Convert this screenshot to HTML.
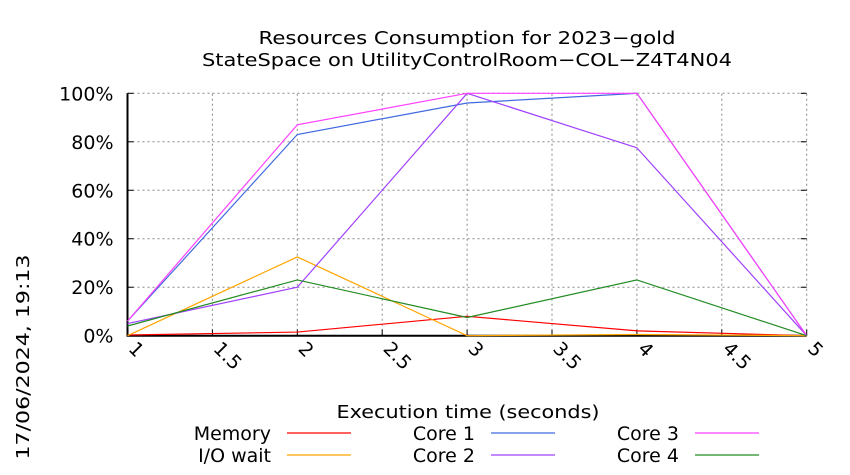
<!DOCTYPE html>
<html><head><meta charset="utf-8"><style>
body{margin:0;background:#fff}
svg{display:block;font-family:"DejaVu Sans","Liberation Sans",sans-serif}
</style></head><body>
<svg width="850" height="475" viewBox="0 0 850 475">
<text x="467" y="44" font-size="18" text-anchor="middle" textLength="417" lengthAdjust="spacingAndGlyphs">Resources Consumption for 2023−gold</text>
<text x="467" y="66" font-size="18" text-anchor="middle" textLength="530" lengthAdjust="spacingAndGlyphs">StateSpace on UtilityControlRoom−COL−Z4T4N04</text>
<g id="grid"></g>
<g id="axes"></g>
<g id="series"></g>
<text x="468" y="418" font-size="18" text-anchor="middle" textLength="263" lengthAdjust="spacingAndGlyphs">Execution time (seconds)</text>
<text transform="translate(29,357) rotate(-90)" font-size="18" text-anchor="middle" textLength="205" lengthAdjust="spacingAndGlyphs">17/06/2024, 19:13</text>
<g id="legend"></g>
</svg>
<script>
const xValues=[1,2,3,4,5];
const xTicks=[1,1.5,2,2.5,3,3.5,4,4.5,5];
const yTicks=[0,20,40,60,80,100];
const seriesNames=["Memory","I/O wait","Core 1","Core 2","Core 3","Core 4"];
const memory=[0.3,1.5,8,2,0];
const ioWait=[0,32.5,0,0.5,0];
const core1=[6,83,96,100,0];
const core2=[5,20,100,77.5,0];
const core3=[6,87,100,100,0];
const core4=[4,23,7.5,23,0];
const seriesData=[memory,ioWait,core1,core2,core3,core4];
const colors=["#ff0000","#ffa500","#4169e1","#a040ff","#ff40ff","#228b22"];
const NS="http://www.w3.org/2000/svg";
const X0=127.5,X1=806.7,Y0=335.7,Y1=93.3;
const sx=v=>X0+(v-1)/(5-1)*(X1-X0);
const sy=v=>Y0-v/100*(Y0-Y1);
function mk(tag,attrs,parent){const e=document.createElementNS(NS,tag);for(const k in attrs)e.setAttribute(k,attrs[k]);parent.appendChild(e);return e;}
const grid=document.getElementById('grid'),axes=document.getElementById('axes'),ser=document.getElementById('series'),leg=document.getElementById('legend');
yTicks.forEach(t=>{
 const y=sy(t);
 if(t>0){const l=mk('line',{x1:X0,x2:X1,y1:y,y2:y,stroke:'#888','stroke-dasharray':'2,3','stroke-width':1},grid);
 
 }
 const tk=mk('line',{x1:X0,x2:X0+6,y1:y,y2:y,stroke:'#000'},axes);
 
 
 const tk2=mk('line',{x1:X1-6,x2:X1,y1:y,y2:y,stroke:'#000'},axes);
 
 
 const tx=mk('text',{x:X0-14,y:y+7,'font-size':19,'text-anchor':'end'},axes);
 tx.textContent=t+'%';
 
 
});
xTicks.forEach(t=>{
 const x=sx(t);
 if(t>1){const l=mk('line',{x1:x,x2:x,y1:Y0,y2:Y1,stroke:'#888','stroke-dasharray':'2,3','stroke-width':1},grid);
 
 }
 const tk=mk('line',{x1:x,x2:x,y1:Y0,y2:Y0-6,stroke:'#000'},axes);
 
 
 const tx=mk('text',{transform:`translate(${x},${Y0+14}) rotate(45)`,'font-size':19},axes);
 tx.textContent=String(t);
 
 
});
const ax=mk('path',{d:`M${X0},${Y1} V${Y0} H${X1}`,fill:'none',stroke:'#000','stroke-width':2},axes);


seriesData.forEach((d,i)=>{
 const p=mk('polyline',{points:d.map((v,j)=>sx(xValues[j])+','+sy(v)).join(' '),fill:'none',stroke:colors[i],'stroke-width':1.2},ser);
 
 
});
const colTextX=[271,475,679],colLineX=[287,491,695],rowY=[433,455];
seriesNames.forEach((n,i)=>{
 const c=Math.floor(i/2),r=i%2;
 const t=mk('text',{x:colTextX[c],y:rowY[r]+7,'font-size':19,'text-anchor':'end'},leg);
 t.textContent=n;
 
 
 const l=mk('line',{x1:colLineX[c],x2:colLineX[c]+64,y1:rowY[r],y2:rowY[r],stroke:colors[i],'stroke-width':1.2},leg);
 
 
});
</script>
</body></html>
